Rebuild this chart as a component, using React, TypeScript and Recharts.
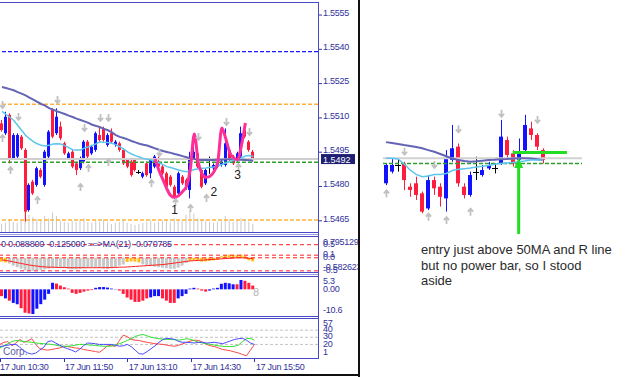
import React from 'react';
import { ComposedChart, Bar, Line, XAxis, YAxis, ReferenceLine, ReferenceDot, Cell } from 'recharts';

const N = null;

// ---------- categories ----------
const times = ["10:30","10:35","10:40","10:45","10:50","10:55","11:00","11:05","11:10","11:15","11:20","11:25","11:30","11:35","11:40","11:45","11:50","11:55","12:00","12:05","12:10","12:15","12:20","12:25","12:30","12:35","12:40","12:45","12:50","12:55","13:00","13:05","13:10","13:15","13:20","13:25","13:30","13:35","13:40","13:45","13:50","13:55","14:00","14:05","14:10","14:15","14:20","14:25","14:30","14:35","14:40","14:45","14:50","14:55","15:00","15:05","15:10","15:15","15:20","15:25","15:30","15:35","15:40","15:45","15:50"];
const xTickTimes = ["10:30","11:50","13:10","14:30","15:50"];
const xTickLabels = ["17 Jun 10:30","17 Jun 11:50","17 Jun 13:10","17 Jun 14:30","17 Jun 15:50"];
const priceTicks = [1.5465, 1.548, 1.5495, 1.551, 1.5525, 1.554, 1.5555];

// ---------- main price series ----------
const openP = [1.55076,1.55033,1.55113,1.54923,1.54931,1.55018,1.5496,1.54697,1.54821,1.54807,1.54872,1.54807,1.54931,1.55135,1.55033,1.55062,1.54989,1.54923,1.54952,1.54901,1.5488,1.54909,1.54996,1.54945,1.5496,1.55025,1.55054,1.54982,1.55033,1.54982,1.54989,1.5496,1.54916,1.54909,1.54916,1.54865,1.54843,1.54901,1.54858,1.54887,1.54909,1.54887,1.54858,1.54843,1.54799,1.5477,1.54843,1.54829,1.54785,1.54923,1.54945,1.54872,1.54814,1.54887,1.5488,1.54887,1.54894,1.54894,1.5496,1.54931,1.54916,1.54931,1.55047,1.54996,1.54952];
const closeP = [1.55047,1.55105,1.54916,1.55025,1.55025,1.54967,1.5469,1.54807,1.5477,1.5488,1.54843,1.54952,1.5504,1.55018,1.55105,1.55011,1.54945,1.54945,1.54887,1.54872,1.54923,1.54996,1.54931,1.54974,1.55033,1.55003,1.55003,1.55025,1.54996,1.54996,1.5496,1.54901,1.54887,1.5485,1.54872,1.54862,1.54858,1.5485,1.54916,1.54931,1.54887,1.54858,1.54799,1.54807,1.54756,1.54858,1.54814,1.54799,1.54923,1.54952,1.54887,1.54799,1.54872,1.54884,1.54894,1.54901,1.54909,1.54989,1.54916,1.54901,1.54945,1.55033,1.55018,1.5496,1.54916];
const highP = [1.55091,1.55127,1.5512,1.55033,1.55033,1.55025,1.54967,1.54814,1.54829,1.54887,1.5488,1.5496,1.55047,1.55142,1.55142,1.55084,1.54996,1.54952,1.5496,1.54909,1.54931,1.55003,1.55003,1.54982,1.5504,1.55062,1.55062,1.55033,1.55054,1.55003,1.54996,1.54967,1.54923,1.54916,1.54923,1.54872,1.54865,1.54909,1.54923,1.54938,1.54931,1.54894,1.54865,1.5485,1.54807,1.54865,1.5485,1.54836,1.54952,1.55033,1.54952,1.5488,1.5488,1.54931,1.54901,1.54909,1.54916,1.55054,1.54967,1.54938,1.54952,1.55062,1.55076,1.55003,1.5496];
const lowP = [1.5504,1.55025,1.54901,1.54916,1.54923,1.5496,1.54646,1.5469,1.54763,1.54799,1.54836,1.54799,1.54923,1.55011,1.55025,1.55003,1.54938,1.54916,1.5488,1.5485,1.54872,1.54901,1.54923,1.54938,1.54952,1.54996,1.54996,1.54974,1.54989,1.54974,1.54952,1.54894,1.5488,1.54843,1.54865,1.54855,1.54836,1.54843,1.54836,1.5488,1.5488,1.5485,1.54792,1.54799,1.54748,1.54763,1.54807,1.54785,1.54748,1.54916,1.5488,1.54792,1.54807,1.54855,1.54872,1.5488,1.54887,1.54887,1.54909,1.54894,1.54909,1.54923,1.55011,1.54952,1.54909];
const maSlow = [1.55235,1.55231,1.55226,1.55221,1.55213,1.55206,1.55199,1.55189,1.5518,1.5517,1.55161,1.55154,1.55143,1.55136,1.55129,1.55123,1.55117,1.5511,1.55104,1.55097,1.55091,1.55085,1.55078,1.5507,1.55065,1.55059,1.55052,1.55046,1.55037,1.55025,1.55017,1.55012,1.55006,1.54999,1.54993,1.54987,1.54983,1.54979,1.54973,1.54967,1.54961,1.54955,1.54951,1.54947,1.54942,1.54938,1.54933,1.54928,1.54923,1.5492,1.54917,1.54916,1.54916,1.54916,1.54916,1.54917,1.54917,1.54919,1.54919,1.54919,1.54917,1.54917,1.54916,1.54915,1.54913];
const maFast = [1.55129,1.55116,1.55103,1.55089,1.55068,1.55046,1.55024,1.55009,1.54996,1.54987,1.5498,1.54977,1.5498,1.54986,1.54987,1.54986,1.54979,1.5497,1.54961,1.5496,1.5496,1.54968,1.54974,1.5498,1.54987,1.54996,1.54993,1.54992,1.54989,1.54983,1.54974,1.54963,1.54951,1.54942,1.54935,1.54929,1.54923,1.54919,1.54916,1.54912,1.54904,1.54896,1.54887,1.54883,1.54878,1.54872,1.54868,1.54865,1.54869,1.54874,1.54878,1.5488,1.54881,1.54884,1.54885,1.54891,1.54896,1.54903,1.54909,1.54916,1.5492,1.54925,1.54933,1.54936,1.54931];
const volume = [35,40,55,45,40,50,90,75,65,55,50,70,60,85,70,50,45,40,50,45,55,60,45,40,50,45,55,40,35,40,45,50,40,35,30,35,40,45,50,40,45,50,55,45,60,55,50,75,95,80,60,55,50,45,40,45,50,70,55,45,50,60,55,45,35];

const pinkStart = 39;
const pinkPrices = [1.5492,1.5487,1.5483,1.5479,1.5476,1.54752,1.5476,1.54778,1.548,1.5488,1.5503,1.54905,1.54855,1.5484,1.54845,1.54865,1.5491,1.55056,1.5501,1.5495,1.54925,1.54918,1.5498,1.55078];

const upArrowBars = [0,2,9,20,22,27,38,44,48,52,60];
const upArrowPrices = [1.55012,1.54872,1.54741,1.54798,1.54881,1.54907,1.54815,1.54732,1.54706,1.5475,1.54885];
const downArrowBars = [0,4,14,21,25,27,40,50,57,63];
const downArrowPrices = [1.55156,1.55104,1.55178,1.55056,1.551,1.551,1.54947,1.55017,1.55082,1.55038];

const noteBars = [44,54,60];
const notePrices = [1.54697,1.54776,1.5485];
const noteTexts = ['1','2','3'];

const levelBlue = 1.5539;
const levelOrangeTop = 1.5516;
const levelOrangeBottom = 1.54654;
const levelGreen = 1.54906;
const bidPrice = 1.5492;

// ---------- oscillator panel ----------
const oscOrange = [-0.15,-0.18,N,N,N,N,N,N,N,N, N,N,N,N,N,N,N,N,N,N, N,N,N,N,N,N,N,N,N,N, N,N,-0.16,-0.14,-0.15,-0.18,N,N,N,N, N,N,N,N,N,N,N,N,-0.12,-0.1, -0.12,-0.15,-0.14,-0.12,-0.1,-0.08,0.06,0.1,0.12,0.11, 0.1,0.12,0.08,-0.1,-0.14];
const oscGray = [N,N,-0.22,-0.3,-0.36,-0.42,-0.48,-0.5,-0.5,-0.48, -0.46,-0.44,-0.42,-0.4,-0.38,-0.38,-0.4,-0.42,-0.44,-0.44, -0.42,-0.4,-0.38,-0.36,-0.36,-0.38,-0.4,-0.42,-0.4,-0.36, -0.3,-0.26,N,N,N,N,-0.25,-0.3,-0.32,-0.34, -0.36,-0.38,-0.4,-0.42,-0.42,-0.38,-0.3,-0.2,N,N, N,N,N,N,N,N,N,N,N,N, N,N,N,N,N];
const oscSignal = [-0.08,-0.1,-0.13,-0.16,-0.19,-0.22,-0.25,-0.28,-0.3,-0.32,-0.34,-0.35,-0.36,-0.36,-0.37,-0.37,-0.37,-0.38,-0.38,-0.38,-0.38,-0.38,-0.38,-0.38,-0.38,-0.38,-0.38,-0.38,-0.37,-0.37,-0.36,-0.36,-0.35,-0.34,-0.33,-0.32,-0.31,-0.3,-0.29,-0.28,-0.27,-0.26,-0.24,-0.22,-0.2,-0.18,-0.16,-0.14,-0.12,-0.11,-0.1,-0.09,-0.08,-0.07,-0.06,-0.05,-0.04,-0.03,-0.02,-0.01,0,0,-0.01,-0.02,-0.04];
const oscTicks = [0.795129, 0.5, 0.1, 0, -0.5, -0.582623];
const oscTickLabels = ["0.795129","0.5","0.1","0.0","-0.5","-0.582623"];
const oscLevels = [0.5, 0.1, 0, -0.5];
const oscCaption = "0 0.088800 -0.125000 ==>MA(21) -0.070785";

// ---------- histogram panel ----------
const macdBlue = [N,-3.6,N,-5.4,-5.9,N,N,N,-9.8,-7.7, -5.9,-4.1,-1.8,2.6,N,N,N,N,N,N, N,N,N,N,0.6,0.9,0.9,0.7,0.3,0.1, N,N,N,N,N,N,N,N,-3.2,-2.7, -2.7,N,N,N,N,-3.6,-2.7,-1.8,0.3,0.6, N,N,N,-0.5,0.3,0.6,2.2,2.6,2.4,2.0, N,3.7,N,N,N];
const macdRed = [-2.7,N,-4.5,N,N,-7.5,-9.3,-9.6,N,N, N,N,N,N,2.3,1.5,0.8,0.3,-1.4,-1.8, -1.4,-0.9,-0.5,-0.3,N,N,N,N,N,N, -0.5,-1.8,-3.2,-4.1,-5,-5,-4.5,-3.6,N,N, N,-3.6,-4.5,-5.4,-5.4,N,N,N,N,N, 0.3,-0.5,-0.9,N,N,N,N,N,N,N, 2.0,N,3.4,2.6,1.5];
const macdTicks = [5.3, 0, -10.6];
const macdTickLabels = ["5.3","0.00","-10.6"];

// ---------- line oscillator panel ----------
const rsiRed = [20,23,24,18,22,27,23,25,28,20,14,13,12,13,14,15,17,17,16,15,14.5,13,12,11,10,9,13,18,19,17,25,33,31,27,26,25.5,24,23,22,21,20.5,20,19,18,17.5,19,21,23,25,26,25.5,23,20,18,17,15,13,12,11,9.5,8,6,4,12,20];
const rsiGreen = [15,18,21,24,25.5,25,24,23.5,23,22,21.5,21,20.5,20,19,18,17.5,17.5,18,19,20,20,19.5,19,18.5,18,17.5,17.5,17.5,19,21,23,25.5,28,31,33,34,32,30,29,28,27.5,27,27,26.5,26,27,28,27,25,23,22,21,20,19,18,17.5,17,17,17.5,19,24,28,28.5,26];
const rsiBlue = [17,18,19,20,20,16,11,8,6.5,8,12,16,24,25,22,19,16,14,12,9.5,13,18,22,21.5,21,20,20,20,20,19,17.5,18,20,17,12,7,6.5,10,14,18,23,27,28.5,28,27,24,23,23,22.5,22,23,23,22,22.5,23,22,21,23,25,27,28,28.5,26,22,20];
const rsiTicks = [57, 40, 30, 20, 1];
const rsiLevels = [40, 30, 20];

// ---------- right (second screenshot) ----------
const rOpen = [1.54811,1.54862,1.54891,1.54898,1.54796,1.54811,1.54767,1.54701,1.54825,1.54796,1.54745,1.54913,1.54971,1.54796,1.5476,1.54862,1.54847,1.54876,1.54876,1.54898,1.55,1.54942,1.54913,1.54956,1.55051,1.55022,1.54956];
const rClose = [1.54891,1.54891,1.54889,1.54825,1.54782,1.5476,1.54687,1.54825,1.54789,1.54752,1.5492,1.54964,1.54811,1.5476,1.54847,1.5486,1.54869,1.54891,1.54874,1.55015,1.54935,1.54898,1.54942,1.55066,1.55022,1.54971,1.54913];
const rHigh = [1.54898,1.5492,1.54913,1.54905,1.54811,1.5484,1.54775,1.54847,1.5484,1.54811,1.54956,1.55066,1.54985,1.54811,1.54862,1.54927,1.54891,1.54905,1.54898,1.55088,1.55015,1.54956,1.55007,1.5511,1.5508,1.5503,1.54964];
const rLow = [1.54803,1.54854,1.54862,1.54781,1.54752,1.54738,1.5468,1.54694,1.5476,1.54709,1.54687,1.54905,1.54796,1.54745,1.54752,1.54825,1.5484,1.54869,1.54854,1.54891,1.5492,1.54884,1.54898,1.54942,1.55,1.54956,1.54898];
const rMaSlow = [1.54991,1.54987,1.54983,1.54978,1.54974,1.5497,1.54964,1.54956,1.54949,1.54939,1.54929,1.54919,1.54913,1.54908,1.54905,1.54907,1.5491,1.54913,1.54914,1.54916,1.54917,1.54919,1.5492,1.5492,1.54919,1.54916,1.54913];
const rMaFast = [1.5492,1.5492,1.54917,1.54895,1.54869,1.5485,1.5484,1.54843,1.54849,1.54849,1.54854,1.54867,1.54872,1.54875,1.54878,1.54882,1.54885,1.54889,1.54894,1.54898,1.549,1.54902,1.54905,1.54908,1.54913,1.54913,1.54913];
const rUpBars = [0,7,10,14];
const rUpPrices = [1.54767,1.54665,1.5465,1.54687];
const rDownBars = [3,8,12,19,25];
const rDownPrices = [1.54949,1.54891,1.55047,1.55115,1.55088];
const rGreenLevel = 1.54946;
const rGreenFrom = 21;
const rGreenTo = 30;
const rEntryBar = 22;
const rEntryTip = 1.54921;
const rEntryStem = [1.54885, 1.54589];
const rGreenDashed = 1.54898;
const rBid = 1.5492;
const noteLines = ["entry just above 50MA and R line", "but no power bar, so I stood", "aside"];

// ---------- styling ----------
const FONT = '"Liberation Sans", Arial, sans-serif';
const NAVY = '#31319c';
const FRAME = '#4848c8';
const FRAME_LIGHT = '#9b9be0';
const UP = '#1212ff';
const DN = '#ff1c3c';
const ARROW = '#c0c0c0';
const PAD_MAIN = 16;
const PAD_RIGHT = 6;
const M0 = { top: 0, right: 0, bottom: 0, left: 0 };

function Candle(props: any) {
  const { x, y, width, height, payload } = props;
  if (!payload || payload.o == null || !isFinite(y) || !isFinite(height)) return <g />;
  const { o, h, l, c } = payload;
  const top = Math.min(y, y + height);
  const span = Math.abs(height);
  const k = h > l ? span / (h - l) : 0;
  const bTop = top + (h - Math.max(o, c)) * k;
  const bBot = top + (h - Math.min(o, c)) * k;
  const doji = Math.abs(o - c) < 0.00004;
  const col = doji ? '#000000' : c > o ? UP : DN;
  const bw = Math.max(1, Math.round(width));
  const bx = Math.round(x + width / 2 - bw / 2);
  const cx = bx + Math.floor(bw / 2) + 0.5;
  return (
    <g>
      <line x1={cx} x2={cx} y1={top} y2={top + span} stroke={col} strokeWidth={1} />
      {doji ? (
        <line x1={bx - 1} x2={bx + bw + 1} y1={Math.round(bTop) + 0.5} y2={Math.round(bTop) + 0.5} stroke={col} strokeWidth={1} />
      ) : (
        <rect x={bx} y={bTop} width={bw} height={Math.max(1, bBot - bTop)} fill={col} />
      )}
    </g>
  );
}

const arrowDot = (dir: 'up' | 'down') => (p: any) => {
  const { cx, cy, value, index } = p;
  const key = `${dir}-${index}`;
  if (value == null || cx == null || cy == null || !isFinite(cy)) return <g key={key} />;
  const x = Math.round(cx) + 0.5;
  const d = dir === 'down'
    ? `M${x},${cy - 4} L${x},${cy + 3} M${x - 2.6},${cy} L${x},${cy + 3} L${x + 2.6},${cy}`
    : `M${x},${cy + 4} L${x},${cy - 3} M${x - 2.6},${cy} L${x},${cy - 3} L${x + 2.6},${cy}`;
  return <path key={key} d={d} stroke={ARROW} strokeWidth={1.8} fill="none" />;
};

function PriceTag(props: any) {
  const vb = props.viewBox || {};
  const x = (vb.x || 0) + (vb.width || 0) + 3;
  const y = vb.y || 0;
  return (
    <g>
      <rect x={x} y={y - 5} width={34} height={10} fill="#1e1e72" />
      <text x={x + 2} y={y + 3.5} fontSize={9} fill="#ffffff" fontFamily={FONT}>{bidPrice.toFixed(4)}</text>
    </g>
  );
}

const edgeTick = (ticks: number[], labels: string[], h: number) => (p: any) => {
  const v = p.payload.value;
  const i = ticks.indexOf(v);
  const label = i >= 0 ? labels[i] : String(v);
  const max = Math.max(...ticks);
  const min = Math.min(...ticks);
  let cy = p.y - 1;
  if (v === max) cy = 5;
  else if (v === min) cy = h - 6;
  return (
    <text x={p.x} y={cy + 3.2} fontSize={9} fill={NAVY} fontFamily={FONT} letterSpacing={-0.25}>{label}</text>
  );
};

function Hl({ x1, x2, y, color, w = 1 }: any) {
  return <div style={{ position: 'absolute', left: x1, top: y, width: x2 - x1, height: w, background: color }} />;
}
function Vl({ x, y1, y2, color, w = 1 }: any) {
  return <div style={{ position: 'absolute', left: x, top: y1, width: w, height: y2 - y1, background: color }} />;
}

export default function App() {
  const pad = Array.from({ length: PAD_MAIN }, (_v, k) => ({ t: `pad${k}` }));
  const pinkMap: Record<number, number> = {};
  pinkPrices.forEach((v, k) => { pinkMap[pinkStart + k] = v; });
  const upMap: Record<number, number> = {};
  upArrowBars.forEach((b, k) => { upMap[b] = upArrowPrices[k]; });
  const dnMap: Record<number, number> = {};
  downArrowBars.forEach((b, k) => { dnMap[b] = downArrowPrices[k]; });

  const rows: any[] = [
    ...times.map((t, i) => ({
      t, o: openP[i], h: highP[i], l: lowP[i], c: closeP[i],
      maS: maSlow[i], maF: maFast[i], vol: volume[i],
      pink: pinkMap[i] ?? null, up: upMap[i] ?? null, dn: dnMap[i] ?? null,
      osc: oscGray[i] ?? oscOrange[i], oscOr: oscOrange[i] != null, sig: oscSignal[i],
      macd: macdBlue[i] ?? macdRed[i], macdUp: macdBlue[i] != null,
      r: rsiRed[i], g: rsiGreen[i], b: rsiBlue[i],
    })),
    ...pad,
  ];

  const rUpMap: Record<number, number> = {};
  rUpBars.forEach((b, k) => { rUpMap[b] = rUpPrices[k]; });
  const rDnMap: Record<number, number> = {};
  rDownBars.forEach((b, k) => { rDnMap[b] = rDownPrices[k]; });
  const rRows: any[] = [
    ...rOpen.map((o, i) => ({
      k: `r${i}`, o, h: rHigh[i], l: rLow[i], c: rClose[i],
      maS: rMaSlow[i], maF: rMaFast[i], up: rUpMap[i] ?? null, dn: rDnMap[i] ?? null,
    })),
    ...Array.from({ length: PAD_RIGHT }, (_v, k) => ({ k: `rp${k}` })),
  ];

  const candleKey = (d: any) => (d.o == null ? null : [d.l, d.h]);

  const xTick = (p: any) => {
    const v = p.payload.value;
    const i = xTickTimes.indexOf(v);
    if (i < 0) return <g />;
    const x = Math.round(p.x) + 0.5;
    return (
      <g>
        <line x1={x} x2={x} y1={p.y} y2={p.y + 4} stroke={NAVY} strokeWidth={1} />
        <text x={p.x + (i === 0 ? 0 : 1.5)} y={p.y + 12} fontSize={9} fill={NAVY} fontFamily={FONT} letterSpacing={-0.3}>{xTickLabels[i]}</text>
      </g>
    );
  };

  const mainTick = (p: any) => (
    <text x={p.x} y={p.y + 0.8} fontSize={9} fill={NAVY} fontFamily={FONT} letterSpacing={-0.25}>{Number(p.payload.value).toFixed(4)}</text>
  );

  return (
    <div style={{ position: 'fixed', left: 0, top: 0, width: 625, height: 377, background: '#ffffff', overflow: 'hidden', fontFamily: FONT }}>
      {/* volume */}
      <div style={{ position: 'absolute', left: 0, top: 2 }}>
        <ComposedChart width={360} height={230} data={rows} margin={{ top: 0, right: 42, bottom: 0, left: 0 }}>
          <XAxis dataKey="t" hide />
          <YAxis hide domain={[0, 1000]} />
          <Bar dataKey="vol" fill="#cacaca" barSize={1} isAnimationActive={false} />
        </ComposedChart>
      </div>
      {/* main price */}
      <div style={{ position: 'absolute', left: 0, top: 2 }}>
        <ComposedChart width={360} height={230} data={rows} margin={M0}>
          <XAxis dataKey="t" hide />
          <YAxis orientation="right" width={42} type="number" domain={[1.54601, 1.55607]} allowDataOverflow ticks={priceTicks} interval={0} tickSize={4} tickMargin={1} axisLine={false} tickLine={{ stroke: NAVY }} tick={mainTick} />
          <ReferenceLine y={levelBlue} stroke="#1a1aff" strokeWidth={1.3} strokeDasharray="4 2" />
          <ReferenceLine y={levelOrangeTop} stroke="#ffb23c" strokeWidth={1.5} strokeDasharray="4 2" />
          <ReferenceLine y={levelOrangeBottom} stroke="#ffb23c" strokeWidth={1.5} strokeDasharray="4 2" />
          <ReferenceLine y={bidPrice} stroke="#cfcfcf" strokeWidth={2} label={<PriceTag />} />
          <ReferenceLine y={levelGreen} stroke="#2e9e2e" strokeWidth={1.5} strokeDasharray="4 2" />
          <Line dataKey="maS" stroke="#6464b4" strokeWidth={2} dot={false} activeDot={false} isAnimationActive={false} />
          <Line dataKey="maF" stroke="#5cc6ee" strokeWidth={1.5} dot={false} activeDot={false} isAnimationActive={false} />
          <Bar dataKey={candleKey} barSize={3} shape={<Candle />} isAnimationActive={false} />
          <Line dataKey="pink" stroke="#ff2f98" strokeWidth={3} dot={false} activeDot={false} connectNulls type="monotone" isAnimationActive={false} />
          <Line dataKey="dn" stroke="none" dot={arrowDot('down')} activeDot={false} isAnimationActive={false} />
          <Line dataKey="up" stroke="none" dot={arrowDot('up')} activeDot={false} isAnimationActive={false} />
          {noteBars.map((b, k) => (
            <ReferenceDot key={`n${k}`} x={times[b]} y={notePrices[k]} r={1}
              shape={(p: any) => <text x={p.cx} y={p.cy + 4} textAnchor="middle" fontSize={12} fill="#202020" fontFamily={FONT}>{noteTexts[k]}</text>} />
          ))}
        </ComposedChart>
      </div>

      {/* oscillator panel */}
      <div style={{ position: 'absolute', left: 0, top: 237 }}>
        <ComposedChart width={360} height={36} data={rows} margin={M0}>
          <XAxis dataKey="t" hide />
          <YAxis orientation="right" width={42} type="number" domain={[-0.582623, 0.795129]} allowDataOverflow ticks={oscTicks} interval={0} tickSize={2} tickMargin={3} axisLine={false} tickLine={false} tick={edgeTick(oscTicks, oscTickLabels, 36)} />
          <Bar dataKey="osc" barSize={3} isAnimationActive={false}>
            {rows.map((r, i) => <Cell key={i} fill={r.oscOr ? '#ffbe1e' : '#c8c8c8'} />)}
          </Bar>
          {oscLevels.map((v) => <ReferenceLine key={v} y={v} stroke="#ff2020" strokeDasharray="4 3" />)}
          <Line dataKey="sig" stroke="#ff2020" strokeWidth={1} dot={false} activeDot={false} isAnimationActive={false} />
        </ComposedChart>
      </div>
      <div style={{ position: 'absolute', left: 1, top: 239, fontSize: 9, color: NAVY, letterSpacing: -0.2, whiteSpace: 'nowrap', lineHeight: '11px' }}>{oscCaption}</div>

      {/* histogram panel */}
      <div style={{ position: 'absolute', left: 0, top: 276 }}>
        <ComposedChart width={360} height={40} data={rows} margin={M0}>
          <XAxis dataKey="t" hide />
          <YAxis orientation="right" width={42} type="number" domain={[-10.6, 5.3]} allowDataOverflow ticks={macdTicks} interval={0} tickSize={2} tickMargin={3} axisLine={false} tickLine={false} tick={edgeTick(macdTicks, macdTickLabels, 40)} />
          <Bar dataKey="macd" barSize={3} isAnimationActive={false}>
            {rows.map((r, i) => <Cell key={i} fill={r.macdUp ? UP : DN} />)}
          </Bar>
        </ComposedChart>
      </div>
      <div style={{ position: 'absolute', left: 253, top: 286, fontSize: 11, color: '#b4b4b4', lineHeight: '13px' }}>8</div>

      {/* line oscillator panel + time axis */}
      <div style={{ position: 'absolute', left: 0, top: 318 }}>
        <ComposedChart width={360} height={56} data={rows} margin={M0}>
          <XAxis dataKey="t" height={16} interval={0} tickSize={0} tickMargin={0} axisLine={false} tickLine={false} tick={xTick} />
          <YAxis orientation="right" width={42} type="number" domain={[1, 57]} allowDataOverflow ticks={rsiTicks} interval={0} tickSize={2} tickMargin={3} axisLine={false} tickLine={false} tick={edgeTick(rsiTicks, rsiTicks.map(String), 40)} />
          {rsiLevels.map((v) => <ReferenceLine key={v} y={v} stroke="#c4c4c4" strokeDasharray="3 2" />)}
          <Line dataKey="r" stroke="#ff4848" strokeWidth={1} dot={false} activeDot={false} isAnimationActive={false} />
          <Line dataKey="g" stroke="#2fe02f" strokeWidth={1} dot={false} activeDot={false} isAnimationActive={false} />
          <Line dataKey="b" stroke="#4a4aff" strokeWidth={1} dot={false} activeDot={false} isAnimationActive={false} />
        </ComposedChart>
      </div>
      <div style={{ position: 'absolute', left: 3, top: 346, fontSize: 10, color: '#5a5aa8', lineHeight: '12px' }}>Corp.</div>

      {/* frames */}
      <Hl x1={0} x2={319} y={2} color={FRAME} />
      <Hl x1={0} x2={319} y={232} color={FRAME} />
      <Hl x1={0} x2={319} y={234} color={FRAME_LIGHT} />
      <Hl x1={0} x2={319} y={236} color={FRAME} />
      <Hl x1={0} x2={319} y={272} color={FRAME} />
      <Hl x1={0} x2={319} y={274} color={FRAME_LIGHT} />
      <Hl x1={0} x2={319} y={276} color={FRAME} />
      <Hl x1={0} x2={319} y={316} color={FRAME} />
      <Hl x1={0} x2={319} y={318} color={FRAME} />
      <Hl x1={0} x2={319} y={358} color={FRAME} />
      <Vl x={318} y1={2} y2={359} color={FRAME} />
      <Vl x={358} y1={0} y2={377} color="#101010" w={2} />
      <Hl x1={0} x2={360} y={374} color="#101010" w={2} />

      {/* right: second screenshot */}
      <div style={{ position: 'absolute', left: 383, top: 95 }}>
        <ComposedChart width={199} height={145} data={rRows} margin={M0}>
          <XAxis dataKey="k" hide />
          <YAxis hide type="number" domain={[1.54563, 1.55197]} allowDataOverflow />
          <ReferenceLine y={rBid} stroke="#d2d2d2" strokeWidth={2} />
          <ReferenceLine y={rGreenDashed} stroke="#2e9e2e" strokeWidth={1.5} strokeDasharray="4 2" />
          <Line dataKey="maS" stroke="#6464b4" strokeWidth={2} dot={false} activeDot={false} isAnimationActive={false} />
          <Line dataKey="maF" stroke="#5cc6ee" strokeWidth={1.5} dot={false} activeDot={false} isAnimationActive={false} />
          <Bar dataKey={candleKey} barSize={4} shape={<Candle />} isAnimationActive={false} />
          <Line dataKey="dn" stroke="none" dot={arrowDot('down')} activeDot={false} isAnimationActive={false} />
          <Line dataKey="up" stroke="none" dot={arrowDot('up')} activeDot={false} isAnimationActive={false} />
          <ReferenceLine segment={[{ x: rRows[rGreenFrom].k, y: rGreenLevel }, { x: rRows[rGreenTo].k, y: rGreenLevel }]} stroke="#22dd22" strokeWidth={3} />
          <ReferenceLine segment={[{ x: rRows[rEntryBar].k, y: rEntryStem[0] }, { x: rRows[rEntryBar].k, y: rEntryStem[1] }]} stroke="#22dd22" strokeWidth={3} />
          <ReferenceDot x={rRows[rEntryBar].k} y={rEntryTip} r={4}
            shape={(p: any) => <path d={`M${p.cx},${p.cy} L${p.cx + 4.5},${p.cy + 10} L${p.cx - 4.5},${p.cy + 10} Z`} fill="#22dd22" />} />
        </ComposedChart>
      </div>
      <div style={{ position: 'absolute', left: 421, top: 242, fontSize: 13, lineHeight: '15.5px', color: '#2a2a2a', whiteSpace: 'nowrap' }}>
        {noteLines.map((s, i) => <div key={i}>{s}</div>)}
      </div>
    </div>
  );
}
